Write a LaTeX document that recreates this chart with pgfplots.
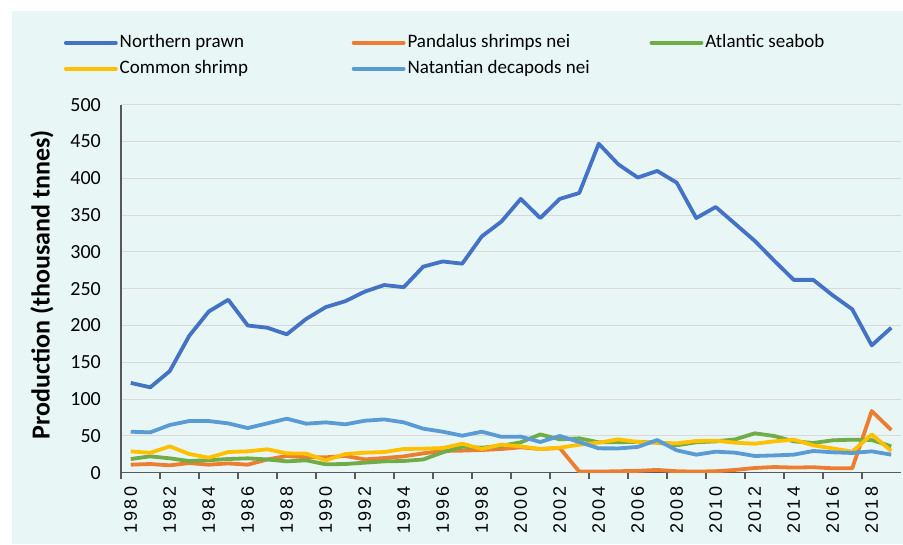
\documentclass[border=0pt]{standalone}
\usepackage{fontspec}
\setmainfont{Carlito}
\newfontfamily\xfont{Liberation Sans}[LetterSpace=12]
\usepackage{pgfplots}
\pgfplotsset{compat=1.18}
\definecolor{bg}{RGB}{232,247,246}
\definecolor{cNP}{RGB}{68,114,196}
\definecolor{cPS}{RGB}{237,125,49}
\definecolor{cAS}{RGB}{112,173,71}
\definecolor{cCS}{RGB}{255,192,0}
\definecolor{cND}{RGB}{91,155,213}
\definecolor{gridc}{RGB}{217,217,217}
\definecolor{axc}{RGB}{89,89,89}
\begin{document}
\begin{tikzpicture}
\fill[bg] (12pt,0pt) rectangle (903pt,533pt);
\begin{axis}[
  at={(121pt,71.3pt)}, anchor=south west,
  width=780pt, height=368pt, scale only axis,
  xmin=1979.5, xmax=2019.5, ymin=0, ymax=500,
  axis x line*=bottom, axis y line*=left,
  axis line style={draw=axc, line width=1.3pt},
  ytick={0,50,...,500},
  ymajorgrids, grid style={draw=gridc, line width=1pt},
  major tick length=0pt,
  minor tick length=6pt,
  tick align=outside,
  xtick={1980,1982,...,2018},
  xticklabels={1980,1982,1984,1986,1988,1990,1992,1994,1996,1998,2000,2002,2004,2006,2008,2010,2012,2014,2016,2018},
  minor xtick={1979.5,1981.5,...,2017.5},
  minor tick style={draw=axc, line width=1.3pt},
  xticklabel shift=14pt,
  yticklabel shift=20pt,
  xticklabel style={rotate=90, anchor=east, inner sep=0pt, font=\xfont\fontsize{18}{20}\selectfont},
  yticklabel style={inner sep=0pt, font=\fontsize{20}{24}\selectfont},
  /pgf/number format/assume math mode=true,
  ylabel={\textbf{Production (thousand tnnes)}},
  ylabel style={at={(axis description cs:0,0.5)}, anchor=center, yshift=79pt, xshift=4pt, font=\fontsize{26}{30}\selectfont},
  legend columns=3,
  legend cell align=left,
  legend image code/.code={\draw[#1, line width=3.8pt, line cap=round] (0pt,0pt) -- (50pt,0pt);},
  legend style={at={(rel axis cs:0,1)}, anchor=north west, xshift=-57.25pt, yshift=72.7pt,
    draw=none, fill=none, inner sep=0pt, column sep=0pt, row sep=5pt,
    font=\fontsize{19}{22}\selectfont,
    nodes={text height=13pt, text depth=4pt}},
  every axis plot/.append style={line width=3.8pt, line join=round, mark=none},
]
\addplot[cNP] coordinates {
(1980,122)(1981,116)(1982,138)(1983,186)(1984,219)(1985,235)(1986,200)(1987,197)(1988,188)(1989,209)
(1990,225)(1991,233)(1992,246)(1993,255)(1994,252)(1995,280)(1996,287)(1997,284)(1998,321)(1999,341)
(2000,372)(2001,346)(2002,372)(2003,380)(2004,447)(2005,419)(2006,401)(2007,410)(2008,394)(2009,346)
(2010,361)(2011,338)(2012,315)(2013,288)(2014,262)(2015,262)(2016,241)(2017,222)(2018,173)(2019,197)};
\addlegendentry{\makebox[230pt][l]{Northern prawn}}
\addplot[cPS] coordinates {
(1980,10.9)(1981,11.8)(1982,10)(1983,13.1)(1984,10.9)(1985,12.6)(1986,10.9)(1987,18)(1988,22.7)(1989,20.9)
(1990,20.9)(1991,22.7)(1992,18.1)(1993,19.9)(1994,22.2)(1995,26.3)(1996,29.5)(1997,30)(1998,30.8)(1999,32.2)
(2000,34.5)(2001,32.2)(2002,33.5)(2003,1.5)(2004,1.5)(2005,2)(2006,2.5)(2007,3.8)(2008,2)(2009,1.5)
(2010,2)(2011,3.8)(2012,6.4)(2013,7.7)(2014,7)(2015,7.4)(2016,6)(2017,6)(2018,83.8)(2019,58)};
\addlegendentry{\makebox[240pt][l]{Pandalus shrimps nei}}
\addplot[cAS] coordinates {
(1980,18.6)(1981,22.2)(1982,19.5)(1983,15.9)(1984,17)(1985,18.6)(1986,19.5)(1987,18)(1988,15.4)(1989,16.8)
(1990,11.4)(1991,11.8)(1992,13.6)(1993,15.4)(1994,15.9)(1995,18)(1996,27.7)(1997,35.3)(1998,34)(1999,36.5)
(2000,41.3)(2001,52)(2002,45.3)(2003,46.7)(2004,41.3)(2005,41.3)(2006,42)(2007,40.8)(2008,37.2)(2009,41.3)
(2010,42.6)(2011,45.3)(2012,53.5)(2013,49.9)(2014,42.6)(2015,40.4)(2016,44)(2017,44.9)(2018,44.4)(2019,35.8)};
\addlegendentry{Atlantic seabob}
\addplot[cCS] coordinates {
(1980,29)(1981,27)(1982,35.8)(1983,25.4)(1984,20.4)(1985,28.1)(1986,29)(1987,31.8)(1988,26.3)(1989,25.9)
(1990,16.8)(1991,25.4)(1992,27.2)(1993,28.1)(1994,32.2)(1995,32.6)(1996,33.5)(1997,39.4)(1998,32.2)(1999,38.2)
(2000,35.8)(2001,32.2)(2002,34)(2003,38)(2004,40.8)(2005,45.3)(2006,41.7)(2007,40.8)(2008,39.9)(2009,43.1)
(2010,43.5)(2011,40.8)(2012,39.4)(2013,42.6)(2014,44.9)(2015,37.2)(2016,33)(2017,28.6)(2018,52)(2019,29.5)};
\addlegendentry{\makebox[230pt][l]{Common shrimp}}
\addplot[cND] coordinates {
(1980,55.7)(1981,54.8)(1982,64.8)(1983,70.2)(1984,70.2)(1985,67)(1986,60.7)(1987,67)(1988,73.4)(1989,66.6)
(1990,68.4)(1991,65.7)(1992,70.6)(1993,72.4)(1994,68.4)(1995,59.8)(1996,55.7)(1997,50.3)(1998,55.7)(1999,48.8)
(2000,49)(2001,41.7)(2002,49.9)(2003,41.7)(2004,33.1)(2005,33)(2006,35)(2007,44.4)(2008,30.4)(2009,24.5)
(2010,28.6)(2011,27.2)(2012,22.7)(2013,23.5)(2014,24.5)(2015,29.5)(2016,27.7)(2017,26.8)(2018,29)(2019,24.5)};
\addlegendentry{\makebox[240pt][l]{Natantian decapods nei}}
\end{axis}
\pgfresetboundingbox
\path (0pt,0pt) rectangle (903pt,544pt);
\end{tikzpicture}
\end{document}
